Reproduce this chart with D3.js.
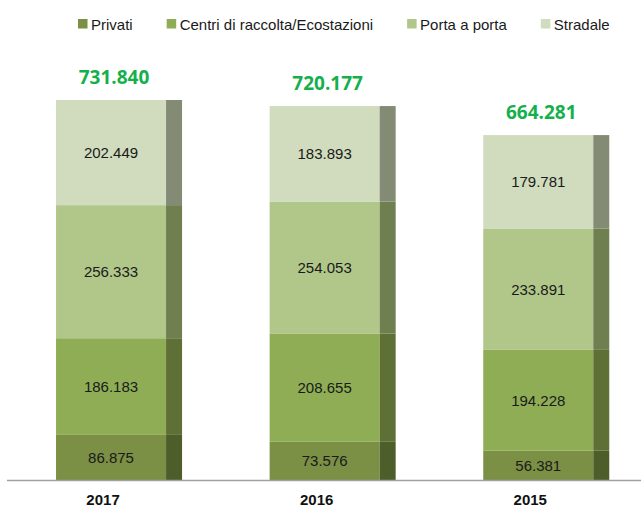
<!DOCTYPE html>
<html>
<head>
<meta charset="utf-8">
<script src="https://d3js.org/d3.v7.min.js"></script>
<style>
  body { margin: 0; padding: 0; background: #fff; }
  svg { display: block; }
</style>
</head>
<body>
<svg id="chart" width="641" height="508"></svg>
<script>
// data
var years = ["2017", "2016", "2015"];
var seriesNames = ["Privati", "Centri di raccolta/Ecostazioni", "Porta a porta", "Stradale"];
var privati  = [86875, 73576, 56381];
var centri   = [186183, 208655, 194228];
var porta    = [256333, 254053, 233891];
var stradale = [202449, 183893, 179781];

var frontColors = ["#7b8f45", "#8fad55", "#b1c78a", "#d0dcbd"];
var sideColors  = ["#4e5e2b", "#5e7035", "#6f7f50", "#848b75"];

var width = 641, height = 508;
var baseY = 480;
var sideW = 16;

var it = d3.formatLocale({decimal: ",", thousands: ".", grouping: [3], currency: ["", "€"]});
var fmt = it.format(",d");

var rows = years.map(function(y, i) {
  return {year: y, "Privati": privati[i], "Centri di raccolta/Ecostazioni": centri[i],
          "Porta a porta": porta[i], "Stradale": stradale[i]};
});
var stacked = d3.stack().keys(seriesNames)(rows);

var svg = d3.select("#chart");

var x = d3.scaleBand().domain(years).range([13.3, 652])
  .paddingInner(0.41).paddingOuter(0.2);
var y = d3.scaleLinear().domain([0, 800000]).range([baseY, baseY - 800000 * 380 / 731840]);

// bars: front face + darker side face
var layers = svg.append("g").selectAll("g")
  .data(stacked).enter().append("g");

layers.selectAll("rect.front")
  .data(function(d) { return d; })
  .enter().append("rect")
  .attr("class", "front")
  .attr("x", function(d) { return x(d.data.year); })
  .attr("y", function(d) { return y(d[1]); })
  .attr("width", x.bandwidth() - sideW)
  .attr("height", function(d) { return y(d[0]) - y(d[1]); })
  .attr("fill", function() { return frontColors[d3.select(this.parentNode).datum().index]; });

layers.selectAll("rect.side")
  .data(function(d) { return d; })
  .enter().append("rect")
  .attr("class", "side")
  .attr("x", function(d) { return x(d.data.year) + x.bandwidth() - sideW; })
  .attr("y", function(d) { return y(d[1]); })
  .attr("width", sideW)
  .attr("height", function(d) { return y(d[0]) - y(d[1]); })
  .attr("fill", function() { return sideColors[d3.select(this.parentNode).datum().index]; });

// segment labels
layers.selectAll("text")
  .data(function(d) { return d; })
  .enter().append("text")
  .attr("x", function(d) { return x(d.data.year) + (x.bandwidth() - sideW) / 2; })
  .attr("y", function(d) { return (y(d[0]) + y(d[1])) / 2; })
  .attr("dy", "0.36em")
  .attr("text-anchor", "middle")
  .style("font-family", "'Liberation Sans', Arial, sans-serif")
  .style("font-size", "15px")
  .style("fill", "#1a1a1a")
  .text(function(d) { return fmt(d[1] - d[0]); });

// totals
var topLayer = stacked[stacked.length - 1];
svg.append("g").selectAll("text")
  .data(topLayer).enter().append("text")
  .attr("x", function(d) { return x(d.data.year) + (x.bandwidth() - sideW) / 2 + 3; })
  .attr("y", function(d) { return y(d[1]) - 16; })
  .attr("text-anchor", "middle")
  .style("font-family", "'Open Sans', sans-serif")
  .style("font-weight", "bold")
  .style("font-size", "19px")
  .style("fill", "#14b04c")
  .text(function(d) { return fmt(d[1]); });

// baseline
svg.append("line")
  .attr("x1", 7).attr("x2", width)
  .attr("y1", baseY + 0.5).attr("y2", baseY + 0.5)
  .attr("stroke", "#a0a0a0").attr("stroke-width", 1.5);

// year labels
var xAxis = svg.append("g")
  .attr("transform", "translate(0," + baseY + ")")
  .call(d3.axisBottom(x).tickSize(0).tickPadding(0));
xAxis.select(".domain").remove();
xAxis.selectAll("text")
  .attr("y", 25).attr("dy", 0).attr("dx", -16)
  .style("font-family", "'Liberation Sans', Arial, sans-serif")
  .style("font-weight", "bold")
  .style("font-size", "15px")
  .style("fill", "#111");

// legend
var legend = svg.append("g");
var lx = 78;
seriesNames.forEach(function(name, i) {
  var g = legend.append("g").attr("transform", "translate(" + lx + ",0)");
  g.append("rect").attr("x", 0).attr("y", 19).attr("width", 9.5).attr("height", 9.5)
    .attr("fill", frontColors[i]);
  var t = g.append("text").attr("x", 13).attr("y", 29.5)
    .style("font-family", "'Liberation Sans', Arial, sans-serif")
    .style("font-size", "15px")
    .style("fill", "#1a1a1a")
    .text(name);
  lx += 13 + t.node().getComputedTextLength() + 34;
});
</script>
</body>
</html>
